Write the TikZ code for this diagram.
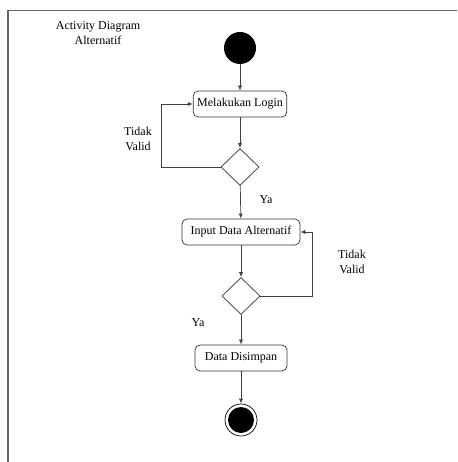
\documentclass[tikz,border=0pt]{standalone}
\usepackage{fontspec}
\setmainfont{Liberation Serif}
\usetikzlibrary{arrows.meta,shapes.geometric}
\begin{document}
\begin{tikzpicture}[x=1pt,y=-1pt,
  font=\fontsize{12}{13}\selectfont,
  line/.style={draw=black!75,line width=0.7pt},
  flow/.style={line,-{Latex[length=5pt,width=4pt]}},
  activity/.style={draw=black!80,line width=0.7pt,rounded corners=5pt,fill=white,minimum height=26pt,inner xsep=4pt},
  decision/.style={draw=black!80,line width=0.7pt,diamond,minimum width=38pt,minimum height=37pt,inner sep=0pt,aspect=1},
  label/.style={align=center,inner sep=0pt,font=\fontsize{12}{14.5}\selectfont}]
\useasboundingbox (0,0) rectangle (457,462);
% frame lines
\draw[black!60,line width=1.4pt] (8,462) -- (8,10.5) -- (457,10.5);
% title
\node[label] (title) at (98,33) {Activity Diagram\\Alternatif};
% nodes
\node[circle,fill=black,minimum size=32pt,inner sep=0pt] (start) at (240,48) {};
\node[activity,minimum width=91pt] (login) at (240,104) {Melakukan Login};
\node[decision] (d1) at (240,167) {};
\node[activity,minimum width=118pt] (input) at (241,232) {Input Data Alternatif};
\node[decision] (d2) at (241,296) {};
\node[activity,minimum width=92pt] (save) at (241,358) {Data Disimpan};
\node[circle,draw=black,line width=0.7pt,minimum size=32pt,inner sep=0pt] (endo) at (241,420) {};
\node[circle,fill=black,minimum size=26pt,inner sep=0pt] (endi) at (241,420) {};
% corner points of the loops
\coordinate (c1) at (161,167);
\coordinate (c2) at (161,104);
\coordinate (c3) at (312,296);
\coordinate (c4) at (312,232);
% connectors
\draw[flow] (start) -- (login);
\draw[flow] (login) -- (d1);
\draw[flow] (d1.west) -- (c1) -- (c2) -- (login.west);
\draw[flow] (d1) -- (input);
\draw[flow] (input) -- (d2);
\draw[flow] (d2.east) -- (c3) -- (c4) -- (input.east);
\draw[flow] (d2) -- (save);
\draw[flow] (save) -- (endo);
% guard labels
\node[label] (t1) at (138,139) {Tidak\\Valid};
\node[label] (y1) at (266,200) {Ya};
\node[label] (t2) at (352,262) {Tidak\\Valid};
\node[label] (y2) at (198,323) {Ya};
\end{tikzpicture}
\end{document}
